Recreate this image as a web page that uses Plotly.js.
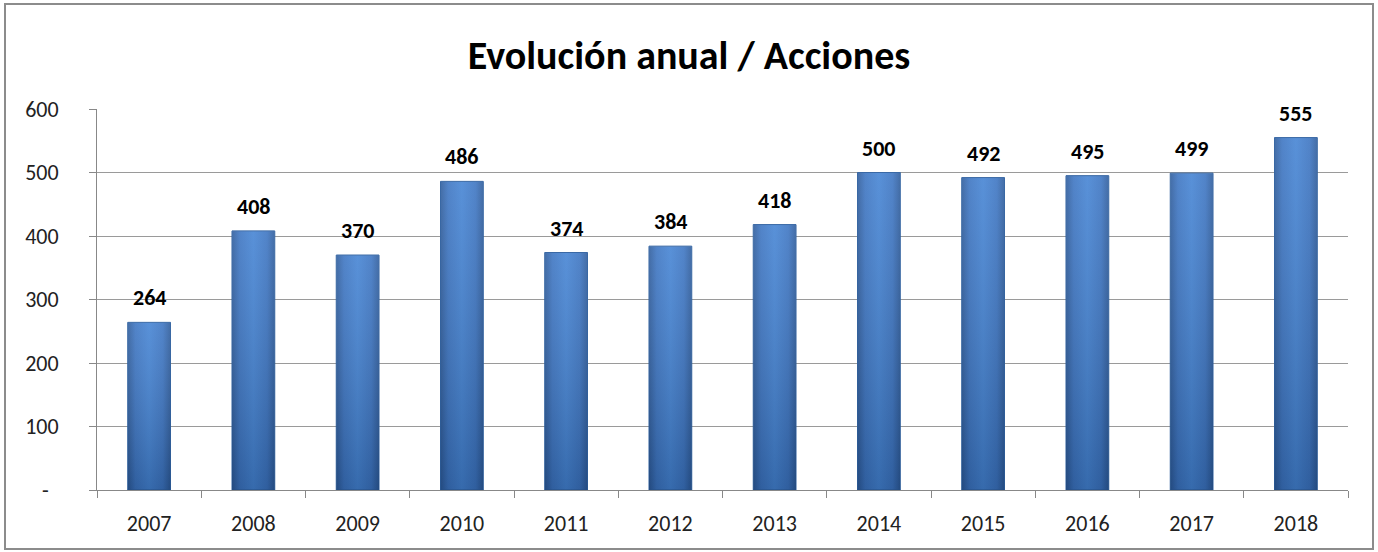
<!DOCTYPE html>
<html>
<head>
<meta charset="utf-8">
<script src="https://cdn.plot.ly/plotly-3.0.1.min.js"></script>
<style>
  html, body { margin: 0; padding: 0; background: #fff; }
  #frame { position: absolute; left: 4px; top: 3px; width: 1366px; height: 543px; border: 2px solid #8c8c8c; }
  #chart { position: absolute; left: 0; top: 0; width: 1378px; height: 552px; }
</style>
</head>
<body>
<div id="frame"></div>
<div id="chart"></div>
<script>
// Datos: evolución anual de acciones
const years = ['2007', '2008', '2009', '2010', '2011', '2012', '2013', '2014', '2015', '2016', '2017', '2018'];
const acciones = [264, 408, 370, 486, 374, 384, 418, 500, 492, 495, 499, 555];
const yTicks = [0, 100, 200, 300, 400, 500, 600];
const yTickText = ['-\u00a0\u00a0', '100', '200', '300', '400', '500', '600'];

const FONT = 'Carlito, Calibri, "Liberation Sans Narrow", "Open Sans", sans-serif';

const traces = [
  {
    type: 'bar', x: years, y: acciones,
    marker: { color: '#3a72bf', line: { color: '#2d5f9f', width: 1 } },
    hoverinfo: 'x+y'
  }
];

// etiquetas encima de cada barra (x por índice: los años parecen números)
const labels = years.map((yr, i) => ({
  x: i, y: acciones[i], text: '<b>' + acciones[i] + '</b>',
  showarrow: false, yanchor: 'bottom', yshift: 9,
  font: { family: FONT, size: 22, color: '#000' }
}));

Plotly.newPlot('chart', traces, {
  width: 1378, height: 552,
  paper_bgcolor: 'rgba(0,0,0,0)', plot_bgcolor: 'rgba(0,0,0,0)',
  margin: { l: 97, r: 30, t: 109, b: 62 },
  showlegend: false,
  bargap: 0.59,
  title: {
    text: '<b>Evolución anual / Acciones</b>',
    x: 0.5, xanchor: 'center', y: 0.9, yanchor: 'middle', yref: 'container',
    font: { family: FONT, size: 40, color: '#000' }
  },
  xaxis: {
    type: 'category', range: [-0.5, years.length - 0.5], showgrid: false,
    showline: true, linecolor: '#888', linewidth: 1,
    ticks: 'outside', tickson: 'boundaries', ticklen: 7, tickcolor: '#888',
    ticklabelstandoff: 14, tickangle: 0,
    tickfont: { family: FONT, size: 22, color: '#222' }
  },
  yaxis: {
    range: [0, 600], tickvals: yTicks, ticktext: yTickText,
    showgrid: true, gridcolor: '#9a9a9a', gridwidth: 1,
    showline: true, linecolor: '#888', linewidth: 1,
    ticks: 'outside', ticklen: 7, tickcolor: '#888',
    ticklabelstandoff: 26,
    zeroline: false,
    tickfont: { family: FONT, size: 22, color: '#222' }
  },
  annotations: labels
}, { displayModeBar: false, staticPlot: true }).then(gd => {
  // degradado tipo bisel como en el gráfico de Excel
  const svg = gd.querySelector('.main-svg');
  const ns = 'http://www.w3.org/2000/svg';
  let defs = svg.querySelector('defs');
  if (!defs) { defs = document.createElementNS(ns, 'defs'); svg.insertBefore(defs, svg.firstChild); }
  defs.insertAdjacentHTML('beforeend',
    '<linearGradient id="barH" x1="0" y1="0" x2="1" y2="0">' +
      '<stop offset="0" stop-color="#2b5a9b"/><stop offset="0.18" stop-color="#3a73c1"/>' +
      '<stop offset="0.5" stop-color="#4282d3"/><stop offset="0.82" stop-color="#3a73c1"/>' +
      '<stop offset="1" stop-color="#2b5a9b"/></linearGradient>' +
    '<linearGradient id="barV" x1="0" y1="0" x2="0" y2="1">' +
      '<stop offset="0" stop-color="#ffffff" stop-opacity="0.12"/>' +
      '<stop offset="1" stop-color="#000000" stop-opacity="0.18"/></linearGradient>');
  gd.querySelectorAll('.bars .point path').forEach(p => {
    p.style.fill = 'url(#barH)';
    const shade = p.cloneNode();
    shade.style.fill = 'url(#barV)';
    shade.style.stroke = 'none';
    p.parentNode.appendChild(shade);
  });
});
</script>
</body>
</html>
